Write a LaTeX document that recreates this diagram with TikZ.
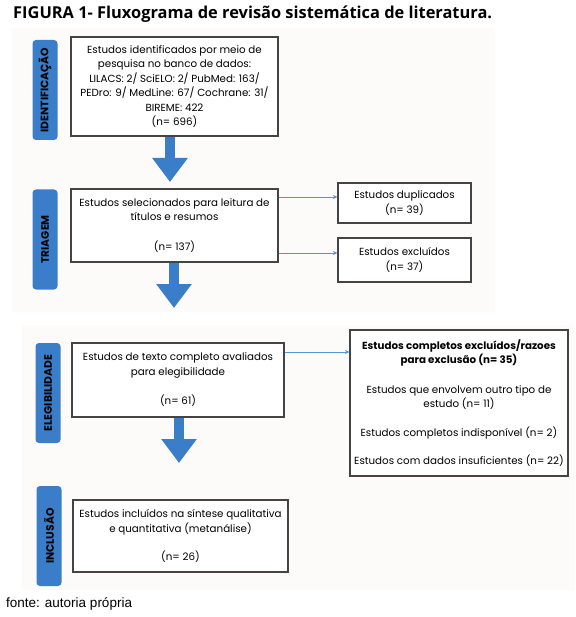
\documentclass[tikz,border=0pt]{standalone}
\usepackage{fontspec}
\setmainfont{Poppins}
\newfontfamily\titlefont{Open Sans}
\newfontfamily\footfont{Liberation Sans}
\usetikzlibrary{arrows.meta}
\definecolor{pblue}{RGB}{58,125,200}
\definecolor{panelbg}{RGB}{252,251,250}
\definecolor{boxline}{RGB}{68,68,68}
\definecolor{thinblue}{RGB}{84,148,218}
\begin{document}
\begin{tikzpicture}[x=1pt,y=-1pt,
  box/.style={draw=boxline, line width=1.1pt, fill=white, inner sep=0pt, align=center,
    font=\fontsize{10.3}{14.5}\selectfont},
  lab/.style={fill=pblue, rounded corners=3.5pt, inner sep=0pt, rotate=90,
    minimum width=100pt, minimum height=25pt, font=\bfseries\fontsize{10.8}{12}\selectfont},
  fat/.style={draw=pblue, line width=9.5pt, -{Triangle[width=34pt,length=24pt]}},
  thin/.style={draw=thinblue, line width=0.8pt, -{Stealth[length=4.5pt,width=4pt]}}
]
\useasboundingbox (0,0) rectangle (575,617);
\fill[white] (0,0) rectangle (575,617);
% panels
\fill[panelbg] (12,28) rectangle (495,312);
\fill[panelbg] (22,325) rectangle (575,590);
% title
\node[anchor=base west, inner sep=0pt, font=\titlefont\bfseries\fontsize{16.4}{18}\selectfont] (title) at (13,19)
  {FIGURA 1- Fluxograma de revisão sistemática de literatura.};
% labels
\node[lab] (l1) at (45,90) {IDENTIFICAÇÃO};
\node[lab] (l2) at (45,239.5) {TRIAGEM};
\node[lab] (l3) at (48,393) {ELEGIBILIDADE};
\node[lab] (l4) at (49,536) {INCLUSÃO};
% boxes
\node[box, minimum width=207pt, minimum height=99pt] (b1) at (174.5,86.5)
  {Estudos identificados por meio de\\pesquisa no banco de dados:\\LILACS: 2/ SciELO: 2/ PubMed: 163/\\PEDro: 9/ MedLine: 67/ Cochrane: 31/\\BIREME: 422\\(n= 696)};
\node[box, minimum width=207pt, minimum height=73pt] (b2) at (174.5,225.5)
  {Estudos selecionados para leitura de\\títulos e resumos\\[15pt](n= 137)};
\node[box, minimum width=133pt, minimum height=40pt] (dup) at (404.5,203)
  {Estudos duplicados\\(n= 39)};
\node[box, minimum width=133pt, minimum height=44pt] (exc) at (404.5,260)
  {Estudos excluídos\\(n= 37)};
\node[box, minimum width=212pt, minimum height=74pt] (b3) at (178,380)
  {Estudos de texto completo avaliados\\para elegibilidade\\[15pt](n= 61)};
\node[box, minimum width=218pt, minimum height=146pt] (exr) at (459,403)
  {\textbf{Estudos completos excluídos/razoes}\\\textbf{para exclusão (n= 35)}\\[15pt]Estudos que envolvem outro tipo de\\estudo (n= 11)\\[14pt]Estudos completos indisponível (n= 2)\\[14pt]Estudos com dados insuficientes (n= 22)};
\node[box, minimum width=215pt, minimum height=72pt] (b4) at (180.5,536)
  {Estudos incluídos na síntese qualitativa\\e quantitativa (metanálise)\\[14pt](n= 26)};
% fat arrows
\coordinate (t1) at (170,182);
\coordinate (t2) at (174,308);
\coordinate (t3) at (179,463);
\draw[fat] (b1.south -| t1) -- (t1);
\draw[fat] (b2.south -| t2) -- (t2);
\draw[fat] (b3.south -| t3) -- (t3);
% thin arrows
\coordinate (y1) at (0,197);
\coordinate (y2) at (0,253);
\coordinate (y3) at (0,352);
\draw[thin] (b2.east |- y1) -- (dup.west |- y1);
\draw[thin] (b2.east |- y2) -- (exc.west |- y2);
\draw[thin] (b3.east |- y3) -- (exr.west |- y3);
% footer
\node[anchor=base west, inner sep=0pt, font=\footfont\fontsize{13.5}{15}\selectfont] (foot) at (6,607) {fonte: autoria própria};
\end{tikzpicture}
\end{document}
